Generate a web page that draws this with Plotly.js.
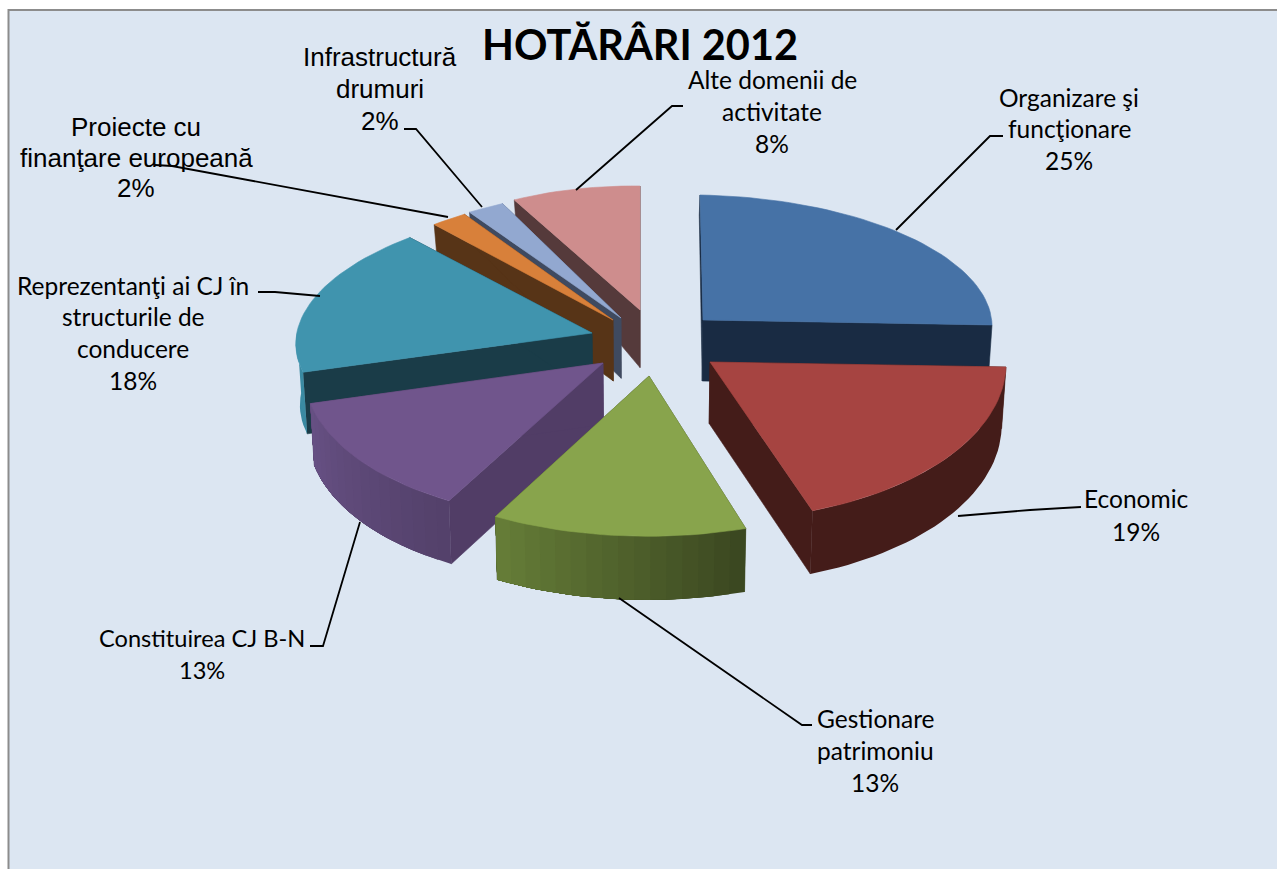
<!DOCTYPE html>
<html>
<head>
<meta charset="utf-8">
<script src="https://cdn.plot.ly/plotly-3.0.1.min.js"></script>
<style>html,body{margin:0;padding:0;background:#fff;overflow:hidden}#chart{width:1277px;height:869px}</style>
</head>
<body>
<div id="chart"></div>
<script>
// ---- data
const categories = ["Organizare şi funcţionare","Economic","Gestionare patrimoniu","Constituirea CJ B-N","Reprezentanţi ai CJ în structurile de conducere","Proiecte cu finanţare europeană","Infrastructură drumuri","Alte domenii de activitate"];
const values = [25,19,13,13,18,2,2,8];
const labelLines = [["Organizare şi","funcţionare"],["Economic"],["Gestionare","patrimoniu"],["Constituirea CJ B-N"],["Reprezentanţi ai CJ în","structurile de","conducere"],["Proiecte cu","finanţare europeană"],["Infrastructură","drumuri"],["Alte domenii de","activitate"]];
const chartTitle = "HOTĂRÂRI 2012";

// ---- styles
const faceColors = ["#4672a6","#a64441","#88a44c","#70558c","#4094ae","#d8803a","#92a8d0","#ce8d8d"];
const wallColors = ["#192b43","#441c19","#3d4a20","#513d66","#1a3c48","#573417","#3f4a60","#553a3b"];
const rimStart   = ["#192b43","#441c19","#3a4620","#53406a","#3a8aa2","#573417","#3f4a60","#553a3b"];
const rimEnd     = ["#192b43","#441c19","#667e38","#675084","#3a8aa2","#573417","#3f4a60","#553a3b"];

// ---- projection of each exploded slice: apex, horizontal and depth axes of its ellipse
const apexX = [703,710,649,603,592,613,621,640];
const apexY = [320,362,376,363,333,320,318,310];
const axisU = [[289,5],[296,5],[316,10],[298,8],[295,1],[290,1],[295,1],[261,3]];
const axisV = [[-3,-125],[7,-158],[21,-160],[30,-156],[27,-130],[27,-130],[27,-130],[0,-124]];
const paintOrder = [7,6,5,4,0,3,2,1];

// ---- label layout: [centre x, y of first line, line step] per category
const labelPos = [[1069,97,31.5],[1136,498,33],[875,718,32],[202,638,32],[133,285,31.7],[136,127,30.5],[380,57,32],[772,79,32]];
const labelFont = ["Lato","Lato","Lato","Lato","Lato","Liberation Sans","Liberation Sans","Lato"];
const labelSize = [24.5,24.5,24.5,23.6,24.5,26,26,24.5];
const leaders = [
  [[1003,136],[990,136],[896,230]],
  [[1081,507],[1030,510],[958,516]],
  [[812,725],[802,725],[619,598]],
  [[310,646],[323,646],[360,522]],
  [[258,292],[275,292],[320,296]],
  [[155,165],[172,166],[448,217]],
  [[404,129],[416,129],[482,207]],
  [[683,106],[672,106],[576,190]]
];

const rad = d => d*Math.PI/180;
const total = values.reduce((a,b)=>a+b,0);
const starts = []; let acc = 0;
values.forEach(v => { starts.push(acc/total*360); acc += v; });
const depth = y => y < 320 ? Math.max(20, 20 + 41*(y-200)/120) : 61 + (y-320)*0.012;
const drop = p => { const d = depth(p[1]); return [p[0] + (640-p[0])*0.012, p[1] + d]; };
const hex = c => [1,3,5].map(i => parseInt(c.substr(i,2),16));
const mix = (a,b,t) => { const A=hex(a),B=hex(b); return "rgb("+A.map((v,i)=>Math.round(v+(B[i]-v)*t)).join(",")+")"; };

const traces = [];
function poly(pts, color, name, lw){
  traces.push({type:"scatter",mode:"lines",x:pts.map(p=>p[0]).concat(pts[0][0]),y:pts.map(p=>p[1]).concat(pts[0][1]),
    fill:"toself",fillcolor:color,line:{color:color,width:lw===undefined?0.6:lw},hoverinfo:"skip",showlegend:false,name:name||""});
}
paintOrder.forEach(i => {
  const a0 = starts[i], a1 = a0 + values[i]/total*360;
  const P = t => [apexX[i]+Math.sin(rad(t))*axisU[i][0]+Math.cos(rad(t))*axisV[i][0],
                  apexY[i]+Math.sin(rad(t))*axisU[i][1]+Math.cos(rad(t))*axisV[i][1]];
  const A = [apexX[i],apexY[i]];
  // radial walls
  [a0,a1].forEach(t => { const R=P(t); poly([A,R,drop(R),drop(A)],wallColors[i]); });
  // rim wall (front half only): each band overlaps all later ones, so no seams show
  const f0 = Math.max(a0,90), f1 = Math.min(a1,270);
  if (f1 > f0){
    const n = rimStart[i]===rimEnd[i] ? 1 : Math.max(2,Math.round((f1-f0)/3));
    for(let k=0;k<n;k++){
      const t0=f0+(f1-f0)*k/n;
      const steps=Math.max(2,Math.round((f1-t0)/2));
      const up=[],down=[];
      for(let s=0;s<=steps;s++){ const p=P(t0+(f1-t0)*s/steps); up.push(p); down.unshift(drop(p)); }
      poly(up.concat(down),mix(rimStart[i],rimEnd[i],(k+0.5)/n),"",0);
    }
  }
  // top face
  const top=[A]; const m=Math.max(4,Math.round((a1-a0)/2));
  for(let k=0;k<=m;k++) top.push(P(a0+(a1-a0)*k/m));
  poly(top,faceColors[i],categories[i]);
});

// leader lines
leaders.forEach(l => traces.push({type:"scatter",mode:"lines",x:l.map(p=>p[0]),y:l.map(p=>p[1]),
  line:{color:"#000",width:1.8},hoverinfo:"skip",showlegend:false}));

// labels
const annotations = [];
categories.forEach((c,i) => {
  const lines = labelLines[i].concat(values[i]+"%");
  lines.forEach((t,k) => annotations.push({
    x:labelPos[i][0], y:labelPos[i][1]+k*labelPos[i][2], xref:"x", yref:"y", text:t, showarrow:false,
    xanchor:"center", yanchor:"middle",
    font:{family:labelFont[i], size:labelSize[i], color:"#000"}
  }));
});

const layout = {
  width:1277,height:869,margin:{l:0,r:0,t:0,b:0},
  paper_bgcolor:"#fff",plot_bgcolor:"rgba(0,0,0,0)",showlegend:false,
  title:{text:"<b>"+chartTitle+"</b>",x:640/1277,xanchor:"center",y:1-45/869,yanchor:"middle",font:{family:"Lato",size:41.5,color:"#000"}},
  xaxis:{range:[0,1277],visible:false,fixedrange:true},
  yaxis:{range:[869,0],visible:false,fixedrange:true},
  shapes:[{type:"rect",xref:"x",yref:"y",x0:8.5,y0:10,x1:1300,y1:900,fillcolor:"#dce6f2",line:{color:"#8c8c8c",width:2},layer:"below"}],
  annotations
};
Plotly.newPlot("chart",traces,layout,{displayModeBar:false,staticPlot:true});
</script>
</body>
</html>
